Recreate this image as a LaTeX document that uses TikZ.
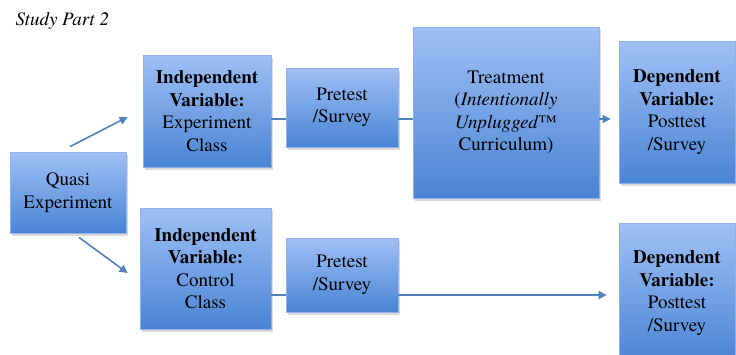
\documentclass[tikz,border=0pt]{standalone}
\usepackage{fontspec}
\setmainfont{texgyretermes}[Extension=.otf, UprightFont=*-regular, BoldFont=*-bold,
	ItalicFont=*-italic, BoldItalicFont=*-bolditalic]
\usetikzlibrary{shadows,arrows.meta,calc}

\definecolor{boxtop}{HTML}{A0C0F6}
\definecolor{boxbot}{HTML}{4A84D4}
\definecolor{boxline}{HTML}{8DB3EA}
\definecolor{arrowblue}{HTML}{4F81BD}

\begin{document}
\begin{tikzpicture}[x=1pt,y=-1pt,
		box/.style={draw=boxline, line width=0.8pt, top color=boxtop, bottom color=boxbot,
			align=center, inner sep=2pt, font=\fontsize{19}{22.5}\selectfont,
			drop shadow={opacity=0.3, shadow xshift=1.5pt, shadow yshift=-2.5pt}},
		flow/.style={draw=arrowblue, line width=1.6pt, -{Triangle[length=8pt,width=8pt]}},
		link/.style={draw=arrowblue, line width=1.6pt}]

		\clip (0,0) rectangle (736,354);

		% Title
		\node[font=\fontsize{19}{22}\selectfont\itshape, anchor=base west] (title) at (12,25) {Study Part 2};

		% Start
		\node[box, minimum width=116pt, minimum height=81pt] (quasi) at (68,192.5) {Quasi\\Experiment};

		% Top row: experiment class
		\node[box, minimum width=128pt, minimum height=112pt] (ivexp) at (207,111) {\textbf{Independent}\\\textbf{Variable:}\\Experiment\\Class};
		\node[box, minimum width=112pt, minimum height=79pt] (preexp) at (342,107.5) {Pretest\\/Survey};
		\node[box, minimum width=186pt, minimum height=171pt] (treat) at (506,112.5) {Treatment\\(\textit{Intentionally}\\\textit{Unplugged}™\\Curriculum)};
		\node[box, minimum width=116pt, minimum height=142pt] (dvexp) at (677,112) {\textbf{Dependent}\\\textbf{Variable:}\\Posttest\\/Survey};

		% Bottom row: control class
		\node[box, minimum width=131pt, minimum height=121pt] (ivctl) at (205.5,268.5) {\textbf{Independent}\\\textbf{Variable:}\\Control\\Class};
		\node[box, minimum width=112pt, minimum height=74pt] (prectl) at (342,275) {Pretest\\/Survey};
		\node[box, minimum width=116pt, minimum height=140pt] (dvctl) at (677,293) {\textbf{Dependent}\\\textbf{Variable:}\\Posttest\\/Survey};

		% Connectors
		\coordinate (rowA) at (0,119);
		\coordinate (rowB) at (0,295);
		\draw[flow] ($(quasi.north)+(2,-5)$) -- ($(ivexp.west)+(-15,6)$);
		\draw[flow] ($(quasi.south)+(11,4)$) -- ($(ivctl.west)+(-12,4.5)$);
		\draw[link] (ivexp.east |- rowA) -- (preexp.west |- rowA);
		\draw[link] (preexp.east |- rowA) -- (treat.west |- rowA);
		\draw[flow, shorten >=8pt] (treat.east |- rowA) -- (dvexp.west |- rowA);
		\draw[link] (ivctl.east |- rowB) -- (prectl.west |- rowB);
		\draw[flow, shorten >=12pt] (prectl.east |- rowB) -- (dvctl.west |- rowB);

	\end{tikzpicture}
\end{document}
